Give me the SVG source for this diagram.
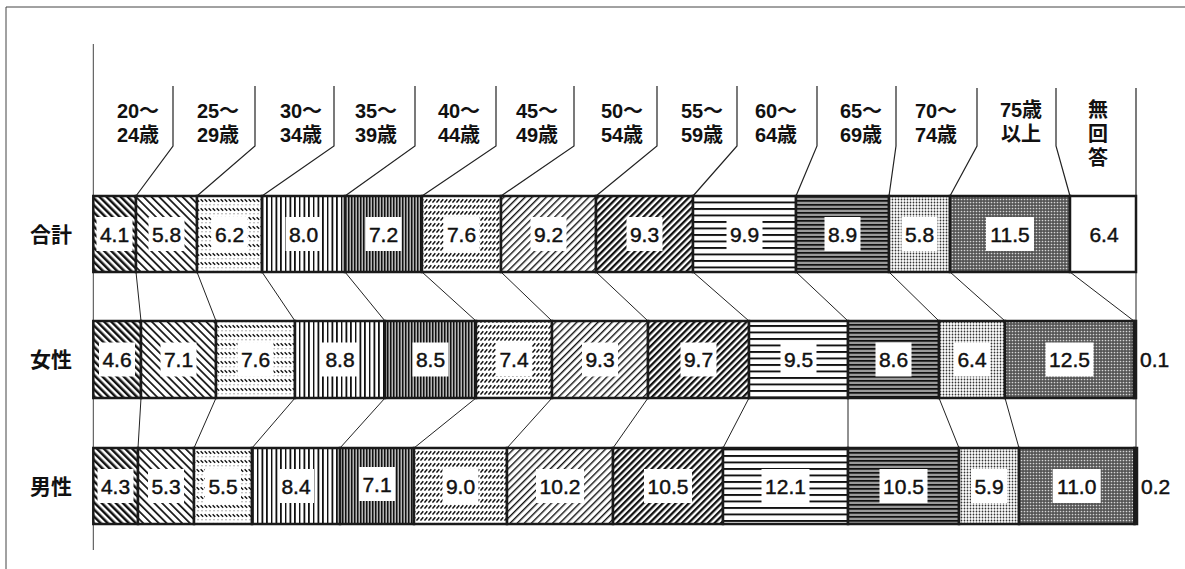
<svg xmlns="http://www.w3.org/2000/svg" width="1185" height="569" viewBox="0 0 1185 569">
<style>
.seg{stroke:#1a1a1a;stroke-width:2.5}
.box{fill:#fff}
.v{font-family:"Liberation Sans","Noto Sans CJK JP",sans-serif;font-size:21px;text-anchor:middle;fill:#111;stroke:#111;stroke-width:0.45}
.h{font-family:"Liberation Sans","Noto Sans CJK JP",sans-serif;font-size:20px;font-weight:bold;text-anchor:middle;fill:#111}
.r{font-family:"Noto Sans CJK JP",sans-serif;font-size:21px;font-weight:bold;text-anchor:middle;fill:#111}
.s{font-family:"Liberation Sans",sans-serif;font-size:21px;fill:#111;stroke:#111;stroke-width:0.45}
.ln{fill:none;stroke:#222;stroke-width:1}
.sep{fill:none;stroke:#222;stroke-width:1.2}
</style>
<defs>
<pattern id="p1" width="5" height="5" patternUnits="userSpaceOnUse" patternTransform="rotate(-45)"><rect width="5" height="5" fill="#fff"/><rect width="2.5" height="5" fill="#111"/></pattern>
<pattern id="p2" width="5.5" height="5.5" patternUnits="userSpaceOnUse" patternTransform="rotate(-45)"><rect width="5.5" height="5.5" fill="#fff"/><rect width="1.7" height="5.5" fill="#111"/></pattern>
<pattern id="p3" width="4" height="9" patternUnits="userSpaceOnUse"><rect width="4" height="9" fill="#fff"/><path d="M0.6,1.2 L3.2,3.8" stroke="#111" stroke-width="1.4"/><circle cx="2" cy="6.8" r="0.55" fill="#444"/></pattern>
<pattern id="p4" width="14" height="4" patternUnits="userSpaceOnUse"><rect width="14" height="4" fill="#fff"/><rect x="0" width="1.8" height="4" fill="#111"/><rect x="5" width="1.4" height="4" fill="#111"/><rect x="9.5" width="1.8" height="4" fill="#111"/></pattern>
<pattern id="p5" width="3" height="4" patternUnits="userSpaceOnUse"><rect width="3" height="4" fill="#b5b5b5"/><rect width="1.5" height="4" fill="#111"/></pattern>
<pattern id="p6" width="4" height="6" patternUnits="userSpaceOnUse"><rect width="4" height="6" fill="#fff"/><path d="M0.5,4.6 L3.3,1.2" stroke="#111" stroke-width="1.5"/></pattern>
<pattern id="p7" width="5" height="5" patternUnits="userSpaceOnUse" patternTransform="rotate(45)"><rect width="5" height="5" fill="#fff"/><rect width="1.4" height="5" fill="#111"/></pattern>
<pattern id="p8" width="4.6" height="4.6" patternUnits="userSpaceOnUse" patternTransform="rotate(45)"><rect width="4.6" height="4.6" fill="#fff"/><rect width="2.3" height="4.6" fill="#111"/></pattern>
<pattern id="p9" width="4" height="6.5" patternUnits="userSpaceOnUse"><rect width="4" height="6.5" fill="#fff"/><rect y="0" width="4" height="1.9" fill="#111"/></pattern>
<pattern id="p10" width="4" height="4" patternUnits="userSpaceOnUse"><rect width="4" height="4" fill="#9a9a9a"/><rect width="4" height="1.7" fill="#111"/></pattern>
<pattern id="p11" width="3" height="3" patternUnits="userSpaceOnUse"><rect width="3" height="3" fill="#fff"/><circle cx="1.5" cy="1.5" r="0.9" fill="#333"/></pattern>
<pattern id="p12" width="3" height="3" patternUnits="userSpaceOnUse"><rect width="3" height="3" fill="#555"/><circle cx="1.5" cy="1.5" r="0.85" fill="#d5d5d5"/></pattern>
</defs>

<g id="frame" fill="none" stroke="#444" stroke-width="1">
<path d="M6,569 V7 H1185"/>
<path d="M93.3,44 V550"/>
</g>

<g id="headers">
<g id="h-20-24"><text class="h" x="138" y="118">20～</text><text class="h" x="138" y="142">24歳</text></g>
<g id="h-25-29"><text class="h" x="218" y="118">25～</text><text class="h" x="218" y="142">29歳</text></g>
<g id="h-30-34"><text class="h" x="301" y="118">30～</text><text class="h" x="301" y="142">34歳</text></g>
<g id="h-35-39"><text class="h" x="376" y="118">35～</text><text class="h" x="376" y="142">39歳</text></g>
<g id="h-40-44"><text class="h" x="459" y="118">40～</text><text class="h" x="459" y="142">44歳</text></g>
<g id="h-45-49"><text class="h" x="537" y="118">45～</text><text class="h" x="537" y="142">49歳</text></g>
<g id="h-50-54"><text class="h" x="622" y="118">50～</text><text class="h" x="622" y="142">54歳</text></g>
<g id="h-55-59"><text class="h" x="702" y="118">55～</text><text class="h" x="702" y="142">59歳</text></g>
<g id="h-60-64"><text class="h" x="776" y="118">60～</text><text class="h" x="776" y="142">64歳</text></g>
<g id="h-65-69"><text class="h" x="861" y="118">65～</text><text class="h" x="861" y="142">69歳</text></g>
<g id="h-70-74"><text class="h" x="936" y="118">70～</text><text class="h" x="936" y="142">74歳</text></g>
<g id="h-75"><text class="h" x="1021" y="117">75歳</text><text class="h" x="1021" y="141">以上</text></g>
<g id="h-na"><text class="h" x="1098" y="117">無</text><text class="h" x="1098" y="141">回</text><text class="h" x="1098" y="165">答</text></g>
</g>

<g id="rowlabels">
<g id="l-total"><text class="r" x="51" y="242">合計</text></g>
<g id="l-female"><text class="r" x="51" y="367">女性</text></g>
<g id="l-male"><text class="r" x="51" y="494">男性</text></g>
</g>

<g id="connectors">
<polyline class="sep" points="173,86 173,146 136,196"/>
<polyline class="sep" points="255,86 255,146 197,196"/>
<polyline class="sep" points="334,86 334,146 262,196"/>
<polyline class="sep" points="415,86 415,146 345,196"/>
<polyline class="sep" points="496,86 496,146 422,196"/>
<polyline class="sep" points="574,86 574,146 501,196"/>
<polyline class="sep" points="657,86 657,146 596,196"/>
<polyline class="sep" points="737,86 737,146 693,196"/>
<polyline class="sep" points="817,86 817,146 796,196"/>
<polyline class="sep" points="896,86 896,146 889,196"/>
<polyline class="sep" points="977,88 977,146 950,196"/>
<polyline class="sep" points="1056,88 1056,146 1070,196"/>
<polyline class="sep" points="1136,88 1136,196"/>
<path class="ln" d="M136,272 L141,321 M197,272 L216,321 M262,272 L295,321 M345,272 L385,321 M422,272 L476,321 M501,272 L552,321 M596,272 L648,321 M693,272 L749,321 M796,272 L848,321 M889,272 L939,321 M950,272 L1005,321 M1070,272 L1134,321 M1136,272 L1136,321"/>
<path class="ln" d="M141,398 L138,448 M216,398 L194,448 M295,398 L252,448 M385,398 L340,448 M476,398 L414,448 M552,398 L507,448 M648,398 L613,448 M749,398 L723,448 M848,398 L848,448 M939,398 L959,448 M1005,398 L1019,448 M1136,398 L1136,448"/>
</g>

<g id="total">
<g id="t-20-24"><rect class="seg" x="93.3" y="196" width="42.7" height="76" fill="url(#p1)"/><rect class="box" x="96.5" y="217" width="36" height="34"/><text class="v" x="114.5" y="241.5">4.1</text></g>
<g id="t-25-29"><rect class="seg" x="136" y="196" width="61" height="76" fill="url(#p2)"/><rect class="box" x="148.5" y="217" width="36" height="34"/><text class="v" x="166.5" y="241.5">5.8</text></g>
<g id="t-30-34"><rect class="seg" x="197" y="196" width="65" height="76" fill="url(#p3)"/><rect class="box" x="211.5" y="217" width="36" height="34"/><text class="v" x="229.5" y="241.5">6.2</text></g>
<g id="t-35-39"><rect class="seg" x="262" y="196" width="83" height="76" fill="url(#p4)"/><rect class="box" x="285.5" y="217" width="36" height="34"/><text class="v" x="303.5" y="241.5">8.0</text></g>
<g id="t-40-44"><rect class="seg" x="345" y="196" width="77" height="76" fill="url(#p5)"/><rect class="box" x="365.5" y="217" width="36" height="34"/><text class="v" x="383.5" y="241.5">7.2</text></g>
<g id="t-45-49"><rect class="seg" x="422" y="196" width="79" height="76" fill="url(#p6)"/><rect class="box" x="443.5" y="217" width="36" height="34"/><text class="v" x="461.5" y="241.5">7.6</text></g>
<g id="t-50-54"><rect class="seg" x="501" y="196" width="95" height="76" fill="url(#p7)"/><rect class="box" x="530.5" y="217" width="36" height="34"/><text class="v" x="548.5" y="241.5">9.2</text></g>
<g id="t-55-59"><rect class="seg" x="596" y="196" width="97" height="76" fill="url(#p8)"/><rect class="box" x="626.5" y="217" width="36" height="34"/><text class="v" x="644.5" y="241.5">9.3</text></g>
<g id="t-60-64"><rect class="seg" x="693" y="196" width="103" height="76" fill="url(#p9)"/><rect class="box" x="726.5" y="217" width="36" height="34"/><text class="v" x="744.5" y="241.5">9.9</text></g>
<g id="t-65-69"><rect class="seg" x="796" y="196" width="93" height="76" fill="url(#p10)"/><rect class="box" x="824.5" y="217" width="36" height="34"/><text class="v" x="842.5" y="241.5">8.9</text></g>
<g id="t-70-74"><rect class="seg" x="889" y="196" width="61" height="76" fill="url(#p11)"/><rect class="box" x="901.5" y="217" width="36" height="34"/><text class="v" x="919.5" y="241.5">5.8</text></g>
<g id="t-75"><rect class="seg" x="950" y="196" width="120" height="76" fill="url(#p12)"/><rect class="box" x="986" y="217" width="48" height="34"/><text class="v" x="1010" y="241.5">11.5</text></g>
<g id="t-na"><rect class="seg" x="1070" y="196" width="66" height="76" fill="#fff"/><text class="v" x="1104" y="241.5">6.4</text></g>
</g>

<g id="female">
<g id="f-20-24"><rect class="seg" x="93.3" y="321" width="47.7" height="77" fill="url(#p1)"/><rect class="box" x="99" y="342.5" width="36" height="34"/><text class="v" x="117" y="367">4.6</text></g>
<g id="f-25-29"><rect class="seg" x="141" y="321" width="75" height="77" fill="url(#p2)"/><rect class="box" x="160.5" y="342.5" width="36" height="34"/><text class="v" x="178.5" y="367">7.1</text></g>
<g id="f-30-34"><rect class="seg" x="216" y="321" width="79" height="77" fill="url(#p3)"/><rect class="box" x="237.5" y="342.5" width="36" height="34"/><text class="v" x="255.5" y="367">7.6</text></g>
<g id="f-35-39"><rect class="seg" x="295" y="321" width="90" height="77" fill="url(#p4)"/><rect class="box" x="322" y="342.5" width="36" height="34"/><text class="v" x="340" y="367">8.8</text></g>
<g id="f-40-44"><rect class="seg" x="385" y="321" width="91" height="77" fill="url(#p5)"/><rect class="box" x="412.5" y="342.5" width="36" height="34"/><text class="v" x="430.5" y="367">8.5</text></g>
<g id="f-45-49"><rect class="seg" x="476" y="321" width="76" height="77" fill="url(#p6)"/><rect class="box" x="496" y="342.5" width="36" height="34"/><text class="v" x="514" y="367">7.4</text></g>
<g id="f-50-54"><rect class="seg" x="552" y="321" width="96" height="77" fill="url(#p7)"/><rect class="box" x="582" y="342.5" width="36" height="34"/><text class="v" x="600" y="367">9.3</text></g>
<g id="f-55-59"><rect class="seg" x="648" y="321" width="101" height="77" fill="url(#p8)"/><rect class="box" x="680.5" y="342.5" width="36" height="34"/><text class="v" x="698.5" y="367">9.7</text></g>
<g id="f-60-64"><rect class="seg" x="749" y="321" width="99" height="77" fill="url(#p9)"/><rect class="box" x="780.5" y="342.5" width="36" height="34"/><text class="v" x="798.5" y="367">9.5</text></g>
<g id="f-65-69"><rect class="seg" x="848" y="321" width="91" height="77" fill="url(#p10)"/><rect class="box" x="875.5" y="342.5" width="36" height="34"/><text class="v" x="893.5" y="367">8.6</text></g>
<g id="f-70-74"><rect class="seg" x="939" y="321" width="66" height="77" fill="url(#p11)"/><rect class="box" x="954" y="342.5" width="36" height="34"/><text class="v" x="972" y="367">6.4</text></g>
<g id="f-75"><rect class="seg" x="1005" y="321" width="129" height="77" fill="url(#p12)"/><rect class="box" x="1045.5" y="342.5" width="48" height="34"/><text class="v" x="1069.5" y="367">12.5</text></g>
<g id="f-na"><rect class="seg" x="1134" y="321" width="2" height="77" fill="#fff"/><text class="s" x="1140" y="367">0.1</text></g>
</g>

<g id="male">
<g id="m-20-24"><rect class="seg" x="93.3" y="448" width="44.7" height="76" fill="url(#p1)"/><rect class="box" x="97.5" y="469" width="36" height="34"/><text class="v" x="115.5" y="494">4.3</text></g>
<g id="m-25-29"><rect class="seg" x="138" y="448" width="56" height="76" fill="url(#p2)"/><rect class="box" x="148" y="469" width="36" height="34"/><text class="v" x="166" y="494">5.3</text></g>
<g id="m-30-34"><rect class="seg" x="194" y="448" width="58" height="76" fill="url(#p3)"/><rect class="box" x="205" y="469" width="36" height="34"/><text class="v" x="223" y="494">5.5</text></g>
<g id="m-35-39"><rect class="seg" x="252" y="448" width="88" height="76" fill="url(#p4)"/><rect class="box" x="278" y="469" width="36" height="34"/><text class="v" x="296" y="494">8.4</text></g>
<g id="m-40-44"><rect class="seg" x="340" y="448" width="74" height="76" fill="url(#p5)"/><rect class="box" x="359" y="467" width="36" height="34"/><text class="v" x="377" y="492">7.1</text></g>
<g id="m-45-49"><rect class="seg" x="414" y="448" width="93" height="76" fill="url(#p6)"/><rect class="box" x="442.5" y="469" width="36" height="34"/><text class="v" x="460.5" y="494">9.0</text></g>
<g id="m-50-54"><rect class="seg" x="507" y="448" width="106" height="76" fill="url(#p7)"/><rect class="box" x="536" y="469" width="48" height="34"/><text class="v" x="560" y="494">10.2</text></g>
<g id="m-55-59"><rect class="seg" x="613" y="448" width="110" height="76" fill="url(#p8)"/><rect class="box" x="644" y="469" width="48" height="34"/><text class="v" x="668" y="494">10.5</text></g>
<g id="m-60-64"><rect class="seg" x="723" y="448" width="125" height="76" fill="url(#p9)"/><rect class="box" x="761.5" y="469" width="48" height="34"/><text class="v" x="785.5" y="494">12.1</text></g>
<g id="m-65-69"><rect class="seg" x="848" y="448" width="111" height="76" fill="url(#p10)"/><rect class="box" x="879.5" y="469" width="48" height="34"/><text class="v" x="903.5" y="494">10.5</text></g>
<g id="m-70-74"><rect class="seg" x="959" y="448" width="60" height="76" fill="url(#p11)"/><rect class="box" x="971" y="469" width="36" height="34"/><text class="v" x="989" y="494">5.9</text></g>
<g id="m-75"><rect class="seg" x="1019" y="448" width="115.5" height="76" fill="url(#p12)"/><rect class="box" x="1052.7" y="469" width="48" height="34"/><text class="v" x="1076.7" y="494">11.0</text></g>
<g id="m-na"><rect class="seg" x="1134.5" y="448" width="2.5" height="76" fill="#fff"/><text class="s" x="1141" y="494">0.2</text></g>
</g>
</svg>
